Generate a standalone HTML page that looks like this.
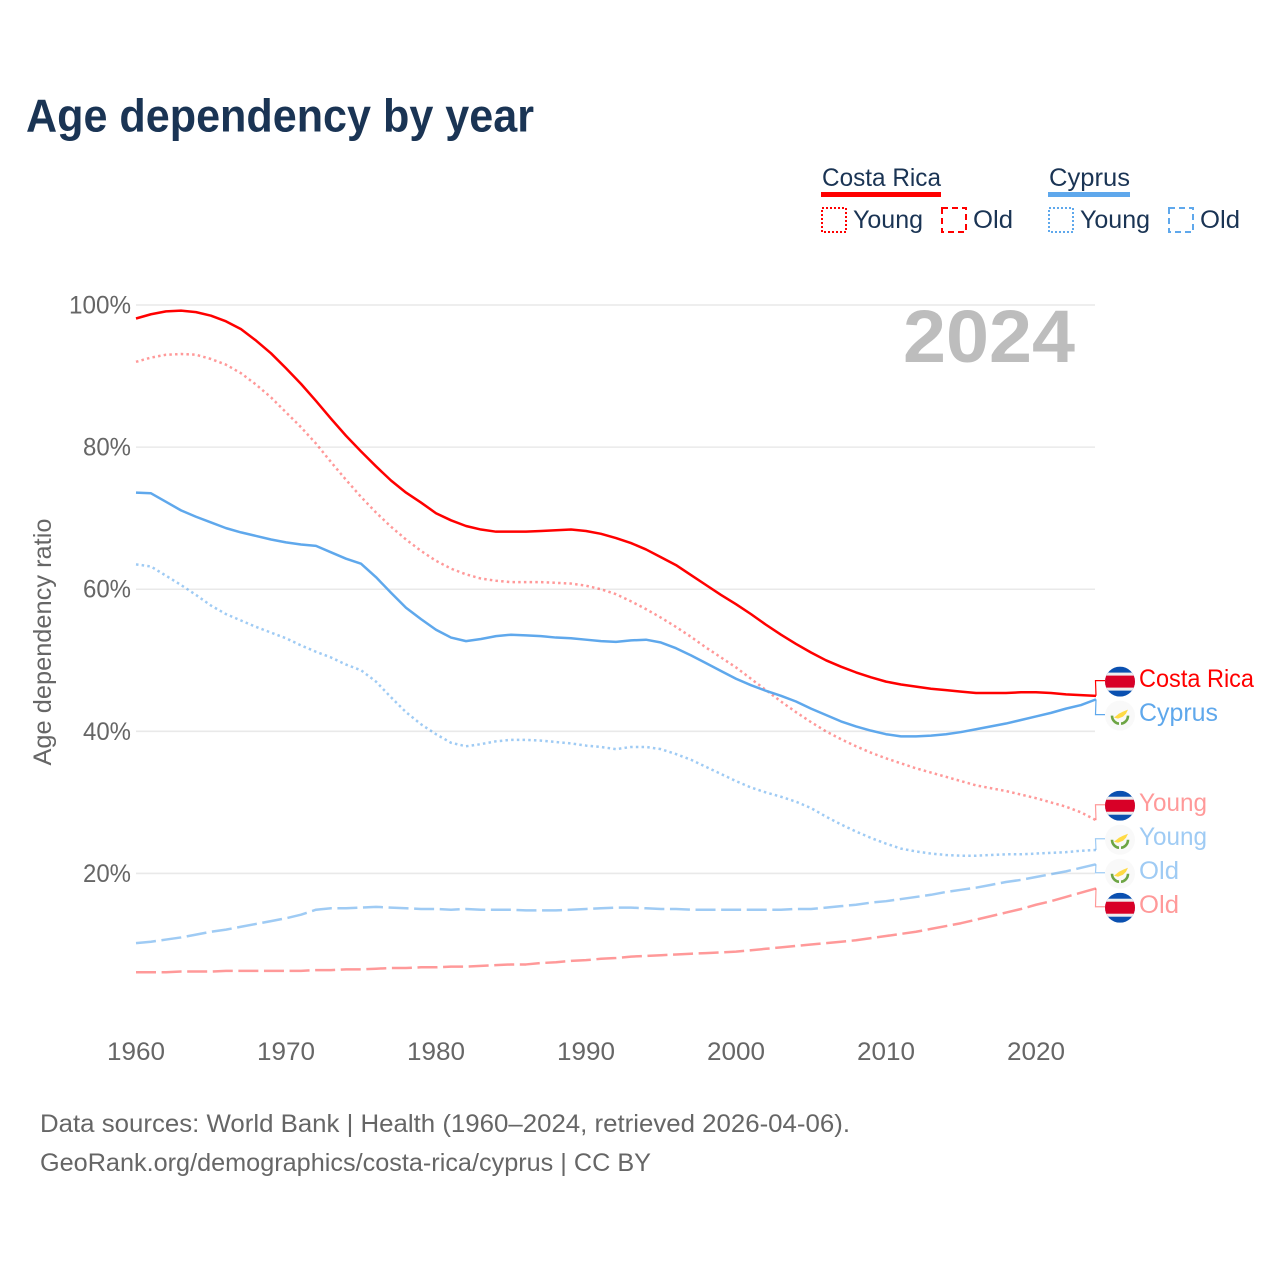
<!DOCTYPE html>
<html lang="en">
<head>
<meta charset="utf-8">
<title>Age dependency by year</title>
<style>
html,body{margin:0;padding:0;background:#fff;width:1280px;height:1280px;overflow:hidden}
svg{display:block}
text{font-family:"Liberation Sans",sans-serif}
</style>
</head>
<body>
<svg id="chart" xmlns="http://www.w3.org/2000/svg" width="1280" height="1280" viewBox="0 0 1280 1280">
  <defs>
    <clipPath id="flag-clip"><circle cx="0" cy="0" r="15"></circle></clipPath>
    <g id="flag-cr">
      <g clip-path="url(#flag-clip)">
        <rect x="-15" y="-15" width="30" height="30" fill="#0a50b0"></rect>
        <rect x="-15" y="-9" width="30" height="18" fill="#eeeeee"></rect>
        <rect x="-15" y="-6" width="30" height="12" fill="#d80027"></rect>
      </g>
    </g>
    <g id="flag-cy">
      <circle cx="0" cy="0" r="15" fill="#f9f9f9"></circle>
      <path d="M-6 2 L-1 -2 L3 -4 L8 -6 L6 -2 L3 1 L-2 3 Z" fill="#ffda44"></path>
      <path d="M-8 0 C-8 5 -4 8 -1 8 M8 0 C8 5 4 8 1 8" fill="none" stroke="#6da544" stroke-width="2.6"></path>
    </g>
  </defs>

  <text x="26" y="131.5" font-size="46" font-weight="700" fill="#1a3454" textLength="508" lengthAdjust="spacingAndGlyphs">Age dependency by year</text>

  <g id="legend">
    <g>
      <text x="822" y="186" font-size="25" fill="#1a3454" textLength="119" lengthAdjust="spacingAndGlyphs">Costa Rica</text>
      <rect x="821" y="192" width="120" height="5" fill="#ff0000"></rect>
      <rect x="822" y="208" width="24" height="24" fill="none" stroke="#ff0000" stroke-width="2" stroke-dasharray="2 2"></rect>
      <text x="853" y="228" font-size="25" fill="#1a3454" textLength="70" lengthAdjust="spacingAndGlyphs">Young</text>
      <rect x="942" y="208" width="24" height="24" fill="none" stroke="#ff0000" stroke-width="2" stroke-dasharray="6 4"></rect>
      <text x="973" y="228" font-size="25" fill="#1a3454" textLength="40" lengthAdjust="spacingAndGlyphs">Old</text>
    </g>
    <g>
      <text x="1049" y="186" font-size="25" fill="#1a3454" textLength="81" lengthAdjust="spacingAndGlyphs">Cyprus</text>
      <rect x="1048" y="192" width="82" height="5" fill="#5fa8ec"></rect>
      <rect x="1049" y="208" width="24" height="24" fill="none" stroke="#5fa8ec" stroke-width="2" stroke-dasharray="2 2"></rect>
      <text x="1080" y="228" font-size="25" fill="#1a3454" textLength="70" lengthAdjust="spacingAndGlyphs">Young</text>
      <rect x="1169" y="208" width="24" height="24" fill="none" stroke="#5fa8ec" stroke-width="2" stroke-dasharray="6 4"></rect>
      <text x="1200" y="228" font-size="25" fill="#1a3454" textLength="40" lengthAdjust="spacingAndGlyphs">Old</text>
    </g>
  </g>

  <g id="grid"></g>
  <g id="y-axis"></g>
  <g id="x-axis"></g>

  <text transform="translate(51 642) rotate(-90)" text-anchor="middle" font-size="25" fill="#666666" textLength="247" lengthAdjust="spacingAndGlyphs">Age dependency ratio</text>

  <text x="1075" y="362" text-anchor="end" font-size="74" font-weight="700" fill="#bdbdbd" textLength="172" lengthAdjust="spacingAndGlyphs">2024</text>

  <g id="series"></g>
  <g id="end-labels"></g>

  <text x="40" y="1132" font-size="25" fill="#666666" textLength="810" lengthAdjust="spacingAndGlyphs">Data sources: World Bank | Health (1960–2024, retrieved 2026-04-06).</text>
  <text x="40" y="1171" font-size="25" fill="#666666" textLength="611" lengthAdjust="spacingAndGlyphs">GeoRank.org/demographics/costa-rica/cyprus | CC BY</text>
</svg>

<script>
const startYear = 1960;
const xTickYears = [1960, 1970, 1980, 1990, 2000, 2010, 2020];
const yTickValues = [20, 40, 60, 80, 100];
const costaRicaTotal = [98.1,98.7,99.1,99.2,99.0,98.5,97.7,96.6,95.0,93.2,91.1,88.9,86.5,84.0,81.6,79.4,77.3,75.3,73.6,72.2,70.7,69.7,68.9,68.4,68.1,68.1,68.1,68.2,68.3,68.4,68.2,67.8,67.2,66.5,65.6,64.5,63.4,62.0,60.6,59.2,57.9,56.5,55.0,53.6,52.3,51.1,50.0,49.1,48.3,47.6,47.0,46.6,46.3,46.0,45.8,45.6,45.4,45.4,45.4,45.5,45.5,45.4,45.2,45.1,45.0];
const costaRicaYoung = [92.0,92.6,93.0,93.1,93.0,92.4,91.6,90.4,88.8,87.0,84.9,82.8,80.5,77.9,75.4,73.0,70.8,68.8,67.0,65.4,64.0,62.9,62.1,61.5,61.2,61.0,61.0,61.0,60.9,60.8,60.5,60.0,59.3,58.3,57.2,56.0,54.7,53.3,51.8,50.4,49.0,47.4,45.8,44.2,42.7,41.3,40.0,38.9,37.9,37.0,36.2,35.5,34.8,34.2,33.6,33.0,32.4,32.0,31.6,31.1,30.6,30.0,29.4,28.6,27.5];
const costaRicaOld = [6.1,6.1,6.1,6.2,6.2,6.2,6.3,6.3,6.3,6.3,6.3,6.3,6.4,6.4,6.5,6.5,6.6,6.7,6.7,6.8,6.8,6.9,6.9,7.0,7.1,7.2,7.2,7.4,7.5,7.7,7.8,8.0,8.1,8.3,8.4,8.5,8.6,8.7,8.8,8.9,9.0,9.2,9.4,9.6,9.8,10.0,10.2,10.4,10.6,10.9,11.2,11.5,11.8,12.2,12.6,13.0,13.5,14.0,14.5,15.0,15.6,16.1,16.7,17.3,17.9];
const cyprusTotal = [73.6,73.5,72.3,71.1,70.2,69.4,68.6,68.0,67.5,67.0,66.6,66.3,66.1,65.2,64.3,63.6,61.7,59.5,57.4,55.8,54.3,53.2,52.7,53.0,53.4,53.6,53.5,53.4,53.2,53.1,52.9,52.7,52.6,52.8,52.9,52.5,51.7,50.7,49.6,48.5,47.4,46.5,45.7,45.0,44.2,43.2,42.3,41.4,40.7,40.1,39.6,39.3,39.3,39.4,39.6,39.9,40.3,40.7,41.1,41.6,42.1,42.6,43.2,43.7,44.5];
const cyprusYoung = [63.5,63.2,61.9,60.6,59.2,57.7,56.5,55.6,54.7,53.9,53.1,52.1,51.2,50.4,49.4,48.6,47.0,44.8,42.7,41.0,39.6,38.4,37.9,38.2,38.6,38.8,38.8,38.7,38.5,38.3,38.0,37.8,37.5,37.8,37.8,37.5,36.8,36.0,35.0,34.0,33.0,32.1,31.4,30.8,30.1,29.2,28.0,26.9,25.9,25.0,24.2,23.5,23.1,22.8,22.6,22.5,22.5,22.6,22.7,22.7,22.8,22.9,23.0,23.2,23.3];
const cyprusOld = [10.2,10.4,10.7,11.0,11.4,11.8,12.1,12.5,12.9,13.3,13.7,14.2,14.9,15.1,15.1,15.2,15.3,15.2,15.1,15.0,15.0,14.9,15.0,14.9,14.9,14.9,14.8,14.8,14.8,14.9,15.0,15.1,15.2,15.2,15.1,15.0,15.0,14.9,14.9,14.9,14.9,14.9,14.9,14.9,15.0,15.0,15.2,15.4,15.6,15.9,16.1,16.4,16.7,17.0,17.4,17.7,18.0,18.4,18.8,19.1,19.5,19.9,20.3,20.8,21.3];

const SVG_NS = 'http://www.w3.org/2000/svg';
function xScale(year) { return 136 + (year - 1960) * 15; }
function yScale(value) { return 305 + (100 - value) * 7.106; }
function make(tag, parent, attrs) {
  const el = document.createElementNS(SVG_NS, tag);
  for (const k in attrs) el.setAttribute(k, attrs[k]);
  parent.appendChild(el);
  return el;
}

const grid = document.getElementById('grid');
const yAxis = document.getElementById('y-axis');
const xAxis = document.getElementById('x-axis');
yTickValues.forEach(function (v) {
  const line = make('line', grid, { x1: 136, x2: 1095, y1: yScale(v), y2: yScale(v), stroke: '#e9e9e9', 'stroke-width': 1.6 });
  
  
  const t = make('text', yAxis, { x: 131, y: yScale(v) + 8.5, 'text-anchor': 'end', 'font-size': 25, fill: '#666666', textLength: v === 100 ? 62 : 48, lengthAdjust: 'spacingAndGlyphs' });
  t.textContent = v + '%';
  
  
});
xTickYears.forEach(function (yr) {
  const t = make('text', xAxis, { x: xScale(yr), y: 1060, 'text-anchor': 'middle', 'font-size': 25, fill: '#666666', textLength: 58, lengthAdjust: 'spacingAndGlyphs' });
  t.textContent = yr;
  
  
});

const seriesList = [
  { id: 'costa-rica-old', values: costaRicaOld, color: '#ff0000', opacity: 0.4, dash: '20 5.6', label: 'Old', flag: '#flag-cr' },
  { id: 'cyprus-old', values: cyprusOld, color: '#5fa8ec', opacity: 0.6, dash: '20 5.6', label: 'Old', flag: '#flag-cy' },
  { id: 'cyprus-young', values: cyprusYoung, color: '#5fa8ec', opacity: 0.6, dash: '2.5 3.2', label: 'Young', flag: '#flag-cy' },
  { id: 'costa-rica-young', values: costaRicaYoung, color: '#ff0000', opacity: 0.4, dash: '2.5 3.2', label: 'Young', flag: '#flag-cr' },
  { id: 'cyprus-total', values: cyprusTotal, color: '#5fa8ec', opacity: 1, dash: '', label: 'Cyprus', flag: '#flag-cy' },
  { id: 'costa-rica-total', values: costaRicaTotal, color: '#ff0000', opacity: 1, dash: '', label: 'Costa Rica', flag: '#flag-cr' }
];

const seriesGroup = document.getElementById('series');
seriesList.forEach(function (s) {
  const d = s.values.map(function (v, i) {
    return (i ? 'L' : 'M') + xScale(startYear + i).toFixed(2) + ' ' + yScale(v).toFixed(2);
  }).join(' ');
  const p = make('path', seriesGroup, { d: d, fill: 'none', stroke: s.color, 'stroke-opacity': s.opacity, 'stroke-width': 2.5, 'stroke-linejoin': 'round' });
  if (s.dash) p.setAttribute('stroke-dasharray', s.dash);
  
  
});

/* End labels: resolve collisions so labels sit 34px apart around their line ends */
const lastYear = startYear + costaRicaTotal.length - 1;
const sorted = seriesList.slice().map(function (s) {
  return { s: s, end: yScale(s.values[s.values.length - 1]) };
}).sort(function (a, b) { return a.end - b.end; });
const GAP = 34;
let clusters = sorted.map(function (o) { return { items: [o], mean: o.end }; });
let merged = true;
while (merged) {
  merged = false;
  for (let i = 0; i < clusters.length - 1; i++) {
    const a = clusters[i], b = clusters[i + 1];
    if (a.mean + (a.items.length - 1) * GAP / 2 + GAP > b.mean - (b.items.length - 1) * GAP / 2) {
      const items = a.items.concat(b.items);
      const mean = items.reduce(function (t, o) { return t + o.end; }, 0) / items.length;
      clusters.splice(i, 2, { items: items, mean: mean });
      merged = true;
      break;
    }
  }
}
const labelGroup = document.getElementById('end-labels');
clusters.forEach(function (c) {
  c.items.forEach(function (o, i) {
    const slot = c.mean + (i - (c.items.length - 1) / 2) * GAP;
    const s = o.s;
    const conn = make('path', labelGroup, {
      d: 'M' + xScale(lastYear) + ' ' + o.end.toFixed(2) + ' L' + (xScale(lastYear) - 0.5) + ' ' + slot.toFixed(2) + ' L1105 ' + slot.toFixed(2),
      fill: 'none', stroke: s.color, 'stroke-opacity': s.opacity, 'stroke-width': 1.2
    });
    
    
    const flag = make('use', labelGroup, { href: s.flag, x: 1120, y: slot + 1 });
    
    
    const t = make('text', labelGroup, { x: 1139, y: slot + 6.5, 'font-size': 25, fill: s.color, 'fill-opacity': s.opacity });
    t.textContent = s.label;
    t.setAttribute('textLength', s.label === 'Costa Rica' ? 115 : s.label === 'Cyprus' ? 79 : s.label === 'Young' ? 68 : 40);
    t.setAttribute('lengthAdjust', 'spacingAndGlyphs');
    
    
  });
});
</script>
</body>
</html>
